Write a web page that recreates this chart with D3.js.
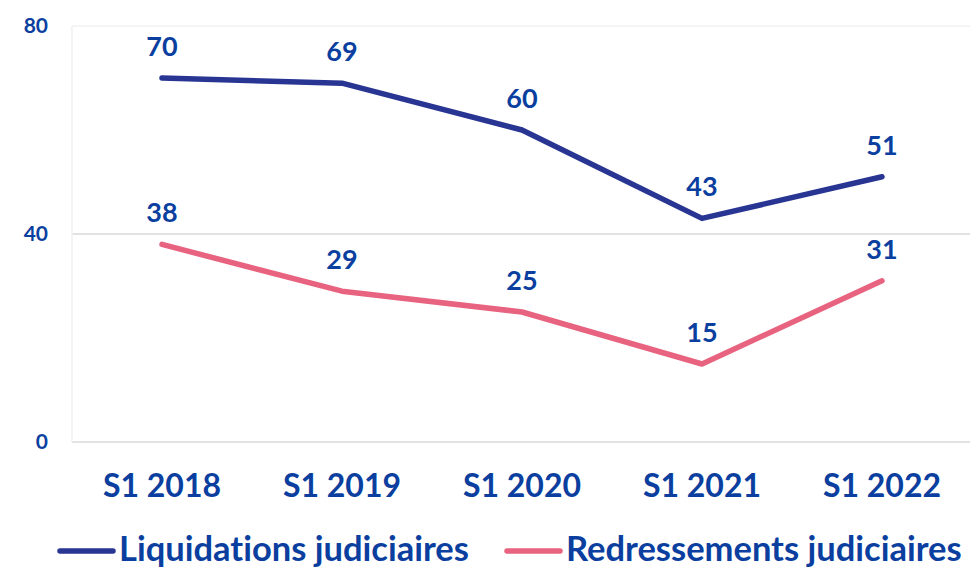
<!DOCTYPE html>
<html>
<head>
<meta charset="utf-8">
<script src="https://cdn.jsdelivr.net/npm/d3@7"></script>
<style>
  body { margin: 0; background: #fff; }
  text { font-family: "Lato", "DejaVu Sans", sans-serif; font-weight: 700; fill: #0b3f9f;
         font-variant-ligatures: none; font-feature-settings: "liga" 0; }
</style>
</head>
<body>
<div id="chart"></div>
<script>
const periods = ["S1 2018", "S1 2019", "S1 2020", "S1 2021", "S1 2022"];
const liquidations = [70, 69, 60, 43, 51];
const redressements = [38, 29, 25, 15, 31];
const yTicks = [0, 40, 80];
const seriesNames = ["Liquidations judiciaires", "Redressements judiciaires"];
const seriesColors = ["#283593", "#e8637f"];

const width = 970, height = 568;
const svg = d3.select("#chart").append("svg").attr("width", width).attr("height", height);

const x = d3.scaleBand().domain(periods).range([72, 972]);
const y = d3.scaleLinear().domain([0, 80]).range([442, 26]);

// gridlines
svg.append("g").selectAll("line").data(yTicks).enter().append("line")
  .attr("x1", 72).attr("x2", width)
  .attr("y1", d => y(d)).attr("y2", d => y(d))
  .attr("stroke", d => d === 80 ? "#f0f0f0" : "#d9d9d9")
  .attr("stroke-width", 1.5);
svg.append("line").attr("x1", 72).attr("x2", 72).attr("y1", y(80)).attr("y2", y(0))
  .attr("stroke", "#f0f0f0").attr("stroke-width", 1.5);

// y tick labels
svg.append("g").selectAll("text").data(yTicks).enter().append("text")
  .attr("x", 48).attr("y", d => y(d) + 7)
  .attr("text-anchor", "end").attr("font-size", 21)
  .text(d => d);

// x labels
svg.append("g").selectAll("text").data(periods).enter().append("text")
  .attr("x", d => x(d) + x.bandwidth() / 2).attr("y", 497)
  .attr("text-anchor", "middle").attr("font-size", 32)
  .text(d => d);

const line = d3.line().x((d, i) => x(periods[i]) + x.bandwidth() / 2).y(d => y(d));

[liquidations, redressements].forEach((vals, k) => {
  svg.append("path").datum(vals)
    .attr("d", line).attr("fill", "none")
    .attr("stroke", seriesColors[k]).attr("stroke-width", 5.5)
    .attr("stroke-linecap", "round").attr("stroke-linejoin", "round");
  svg.append("g").selectAll("text").data(vals).enter().append("text")
    .attr("x", (d, i) => x(periods[i]) + x.bandwidth() / 2)
    .attr("y", d => y(d) - 22)
    .attr("text-anchor", "middle").attr("font-size", 27)
    .text(d => d);
});

// legend
const legendX = [60, 507];
seriesNames.forEach((name, k) => {
  svg.append("line").attr("x1", legendX[k]).attr("x2", legendX[k] + 53)
    .attr("y1", 551).attr("y2", 551)
    .attr("stroke", seriesColors[k]).attr("stroke-width", 5.5).attr("stroke-linecap", "round");
  svg.append("text").attr("x", legendX[k] + 59).attr("y", 561)
    .attr("font-size", 34.5).text(name);
});
</script>
</body>
</html>
